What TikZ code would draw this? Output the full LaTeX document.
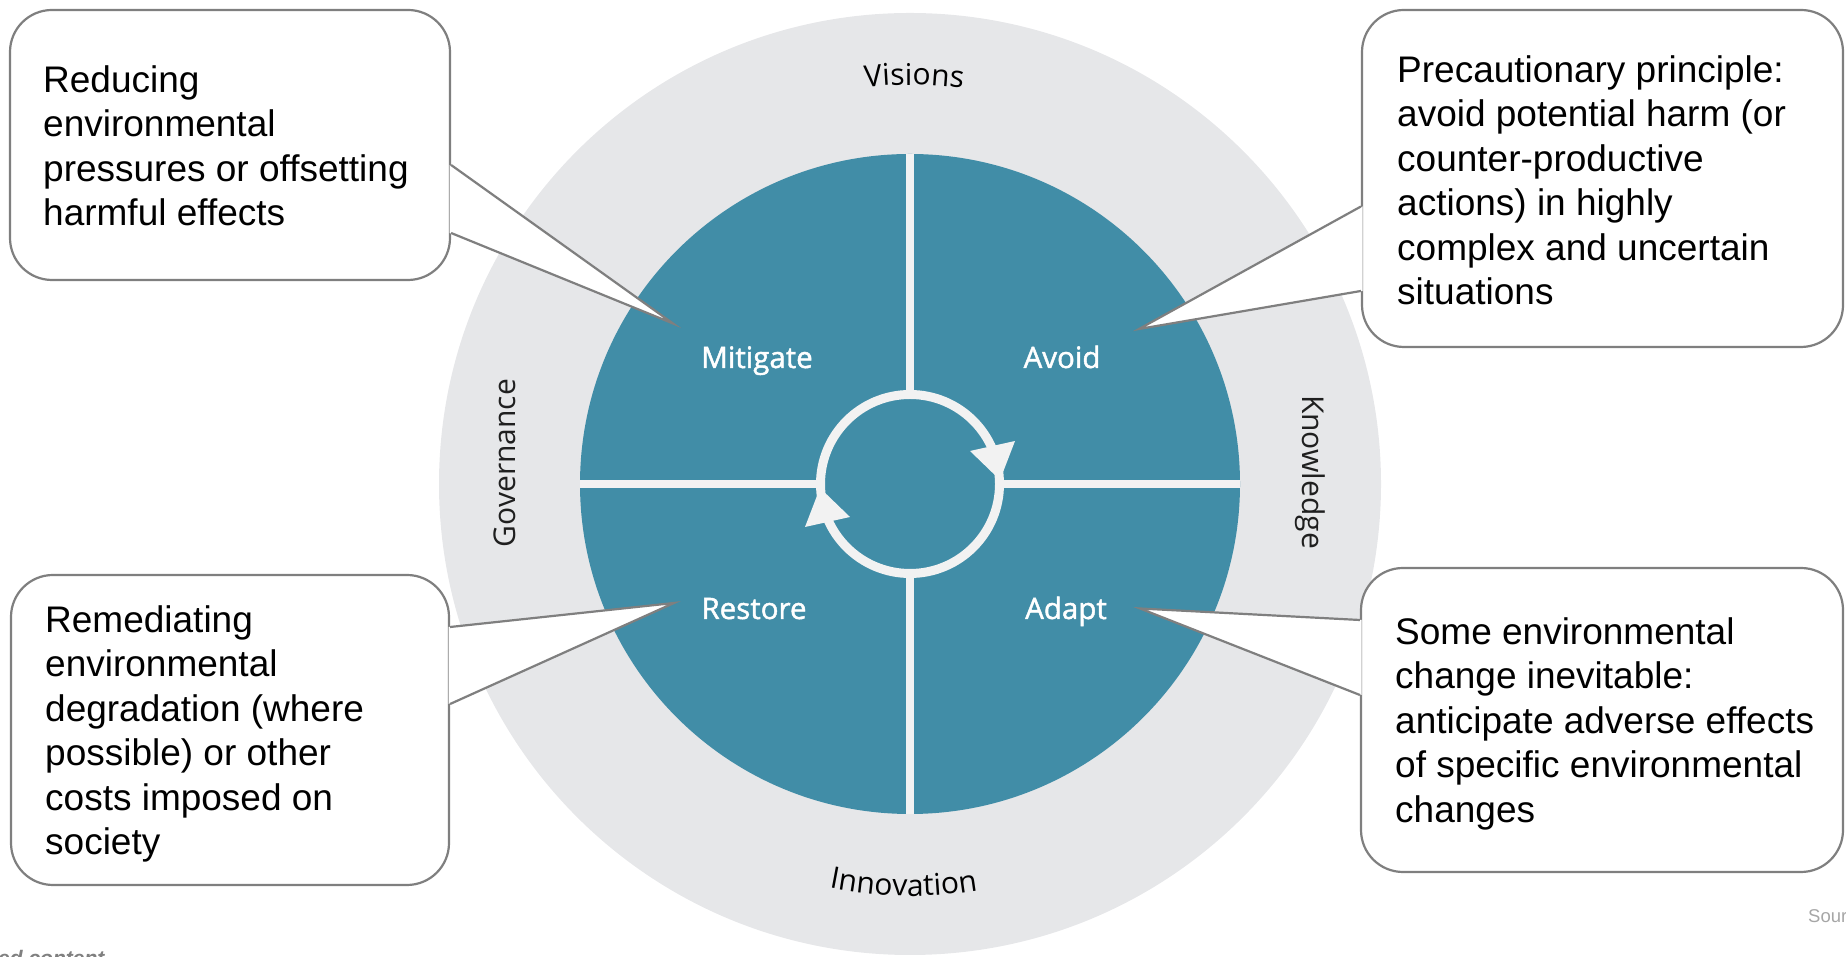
\documentclass[tikz,border=0pt]{standalone}
\usepackage{fontspec}
\setmainfont{Liberation Sans}
\newfontfamily\ringfont{Open Sans}
\newfontfamily\labfont[FakeBold=1.5]{Open Sans}
\newfontfamily\callfont{Liberation Sans}
\usetikzlibrary{decorations.text,calc}
\definecolor{tealq}{HTML}{418DA7}
\definecolor{bandc}{HTML}{E6E7E9}
\definecolor{ringw}{HTML}{F2F2F2}
\definecolor{boxline}{HTML}{7F7F7F}
\begin{document}
\begin{tikzpicture}[x=1pt,y=1pt,
  callbox/.style={draw=boxline, line width=2.2pt, fill=white, rounded corners=42pt, inner sep=0pt},
  calltext/.style={anchor=north west, inner sep=0pt, align=left, font=\callfont\fontsize{37}{44.4}\selectfont},
  pointer/.style={draw=boxline, line width=2.2pt, line join=miter},
  notch/.style={fill=white},
  ringlabel/.style={font=\ringfont\fontsize{30}{36}\selectfont, text=black!88, inner sep=0pt},
  quadlabel/.style={font=\labfont\fontsize{29.5}{36}\selectfont, text=white, inner sep=0pt, anchor=base},
]
\useasboundingbox (0,0) rectangle (1846,957);
\coordinate (C) at (910,473);
% discs
\fill[bandc] (C) circle[radius=471];
\fill[tealq] (C) circle[radius=330];
\draw[ringw, line width=8pt] (910,143) -- (910,803) (580,473) -- (1240,473);
\fill[tealq] (C) circle[radius=86];
\draw[ringw, line width=9pt] (C) circle[radius=89.5];
% cycle arrowheads
\fill[ringw] ([shift={(60,33)}]C) -- ([shift={(105,43)}]C) -- ([shift={(90,4)}]C) -- cycle;
\fill[ringw] ([shift={(-60,-33)}]C) -- ([shift={(-105,-43)}]C) -- ([shift={(-90,-4)}]C) -- cycle;
% ring labels
\path[decorate, decoration={text along path, text align=center,
  text={|\ringfont\fontsize{30}{36}\selectfont|Visions}}]
  ([shift={(99.4:399)}]C) arc[start angle=99.4, end angle=79.4, radius=399];
\path[decorate, decoration={text along path, text align=center,
  text={|\ringfont\fontsize{30}{36}\selectfont|Innovation}}]
  ([shift={(249.1:412)}]C) arc[start angle=249.1, end angle=289.1, radius=412];
\node[ringlabel, rotate=90] (gov) at (505,494) {Governance};
\node[ringlabel, rotate=-90] (know) at (1310,485) {Knowledge};
% quadrant labels
\node[quadlabel] (mit) at (757,589) {Mitigate};
\node[quadlabel] (avo) at (1062,589) {Avoid};
\node[quadlabel] (res) at (754,338) {Restore};
\node[quadlabel] (ada) at (1066,338) {Adapt};
% callout 1
\node[callbox, minimum width=440pt, minimum height=270pt] (b1) at (230,812) {};
\coordinate (p1) at (673,633.5);
\coordinate (b1a) at ($(b1.east)+(0,-20)$);
\coordinate (b1b) at ($(b1.east)+(0,-88)$);
\fill[notch] ($(b1a)+(-1.6,0)$) -- (p1) -- ($(b1b)+(-1.6,0)$) -- cycle;
\draw[pointer] (b1a) -- (p1) -- (b1b);
\node[calltext] (t1) at (43,895.8) {\strut Reducing\\environmental\\pressures or offsetting\\harmful effects};
% callout 2
\node[callbox, minimum width=481pt, minimum height=337pt] (b2) at (1602.5,778.5) {};
\coordinate (p2) at (1139,628);
\coordinate (b2a) at ($(b2.west)+(0,-28)$);
\coordinate (b2b) at ($(b2.west)+(0,-112.5)$);
\fill[notch] ($(b2a)+(1.6,0)$) -- (p2) -- ($(b2b)+(1.6,0)$) -- cycle;
\draw[pointer] (b2a) -- (p2) -- (b2b);
\node[calltext] (t2) at (1397,905.8) {\strut Precautionary principle:\\avoid potential harm (or\\counter-productive\\actions) in highly\\complex and uncertain\\situations};
% callout 3
\node[callbox, minimum width=438pt, minimum height=310pt] (b3) at (230,227) {};
\coordinate (p3) at (674,354);
\coordinate (b3a) at ($(b3.east)+(0,103)$);
\coordinate (b3b) at ($(b3.east)+(0,26)$);
\fill[notch] ($(b3a)+(-1.6,0)$) -- (p3) -- ($(b3b)+(-1.6,0)$) -- cycle;
\draw[pointer] (b3a) -- (p3) -- (b3b);
\node[calltext] (t3) at (45,355.8) {\strut Remediating\\environmental\\degradation (where\\possible) or other\\costs imposed on\\society};
% callout 4
\node[callbox, minimum width=482pt, minimum height=304pt] (b4) at (1602,237) {};
\coordinate (p4) at (1140,348.5);
\coordinate (b4a) at ($(b4.west)+(0,100)$);
\coordinate (b4b) at ($(b4.west)+(0,25)$);
\fill[notch] ($(b4a)+(1.6,0)$) -- (p4) -- ($(b4b)+(1.6,0)$) -- cycle;
\draw[pointer] (b4a) -- (p4) -- (b4b);
\node[calltext] (t4) at (1395,343.8) {\strut Some environmental\\change inevitable:\\anticipate adverse effects\\of specific environmental\\changes};
% cut-off texts
\node[anchor=base west, inner sep=0pt, font=\fontsize{18.5}{22}\selectfont, text=black!35] (src) at (1808,34) {Sour};
\node[anchor=base west, inner sep=0pt, font=\bfseries\itshape\fontsize{21}{25}\selectfont, text=black!50] (edc) at (-2,-9) {ed content};
\end{tikzpicture}
\end{document}
